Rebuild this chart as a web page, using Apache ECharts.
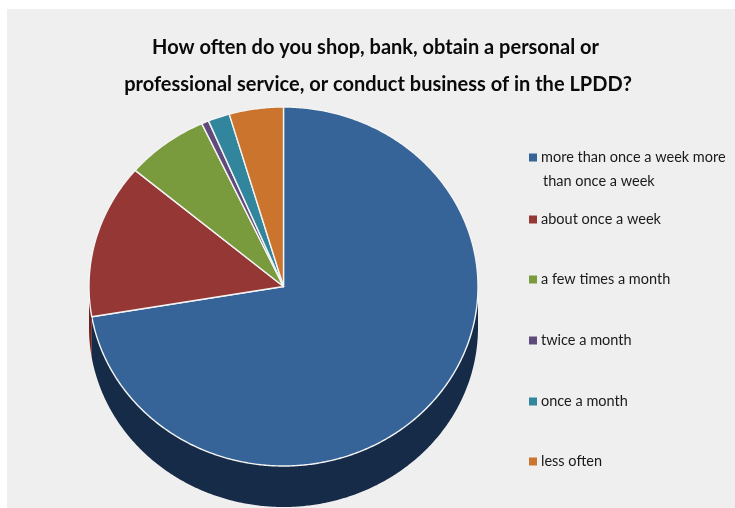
<!DOCTYPE html>
<html>
<head>
<meta charset="utf-8">
<style>html,body{margin:0;padding:0;background:#fff;overflow:hidden}#chart{width:735px;height:508px}</style>
<script src="https://cdn.jsdelivr.net/npm/echarts@6/dist/echarts.min.js"></script>
</head>
<body>
<div id="chart"></div>
<script>
// Survey responses, share of respondents in percent
const categories = [
  'more than once a week more than once a week',
  'about once a week',
  'a few times a month',
  'twice a month',
  'once a month',
  'less often'
];
const shares = [72.3, 13.9, 6.9, 0.6, 1.8, 4.5];
const topColors = ['#366498', '#953735', '#7a9a3e', '#604a7b', '#31859c', '#cb742e'];
const sideColors = ['#152b47', '#6b2320', '#56702b', '#453558', '#236070', '#935320'];
const legendTops = [150, 212, 272, 333, 394, 454];

// Tilted pie geometry
const CX = 283.5, CY = 286.5, RX = 194.5, RY = 179.5, DEPTH = 41;
const total = shares.reduce((a, b) => a + b, 0);

function rimPoint(deg, drop) {
  const a = deg * Math.PI / 180;
  return [CX + RX * Math.sin(a), CY - RY * Math.cos(a) + drop];
}
function arc(from, to, drop) {
  const pts = [];
  const steps = Math.max(2, Math.ceil((to - from) * 2));
  for (let i = 0; i <= steps; i++) pts.push(rimPoint(from + (to - from) * i / steps, drop));
  return pts;
}

function renderSlice(index) {
  return function (params, api) {
    let before = 0;
    for (let i = 0; i < index; i++) before += shares[i];
    const start = before / total * 360;
    const end = (before + api.value(0)) / total * 360;
    const children = [];
    // The extruded wall only shows on the front half of the rim
    const wallFrom = Math.max(start, 90), wallTo = Math.min(end, 270);
    if (wallTo > wallFrom) {
      children.push({
        type: 'polygon',
        shape: { points: arc(wallFrom, wallTo, 0).concat(arc(wallFrom, wallTo, DEPTH).reverse()) },
        style: { fill: sideColors[index] }
      });
    }
    children.push({
      type: 'polygon',
      shape: { points: [[CX, CY]].concat(arc(start, end, 0)) },
      style: { fill: topColors[index], stroke: '#f4f4f4', lineWidth: 1.4, lineJoin: 'round' }
    });
    return { type: 'group', children };
  };
}

const option = {
  animation: false,
  backgroundColor: '#ffffff',
  title: {
    text: 'How often do you shop, bank, obtain a personal or \nprofessional service, or conduct business of in the LPDD?',
    left: 373, top: 24, textAlign: 'center',
    textStyle: { fontFamily: 'Lato', fontWeight: 'bold', fontSize: 20, lineHeight: 37, color: '#0a0a0a' }
  },
  graphic: [
    { type: 'rect', z: -1, shape: { x: 7, y: 9, width: 728, height: 499 }, style: { fill: '#efefef' } },
    { type: 'text', left: 543, top: 174, style: { text: 'than once a week', font: '14.5px Lato', fill: '#1a1a1a' } }
  ],
  legend: categories.map((name, i) => ({
    data: [name],
    left: 529, top: legendTops[i], orient: 'vertical', padding: 0,
    icon: 'rect', itemWidth: 8, itemHeight: 8, itemGap: 0,
    textStyle: { fontFamily: 'Lato', fontSize: 14.5, color: '#1a1a1a', padding: [0, 0, 0, -1] },
    formatter: n => n === categories[0] ? 'more than once a week more' : n
  })),
  series: categories.map((name, i) => ({
    type: 'custom',
    name,
    coordinateSystem: 'none',
    itemStyle: { color: topColors[i] },
    renderItem: renderSlice(i),
    data: [[shares[i]]],
    silent: true
  }))
};

echarts.init(document.getElementById('chart'), null, { renderer: 'canvas' }).setOption(option);
</script>
</body>
</html>
